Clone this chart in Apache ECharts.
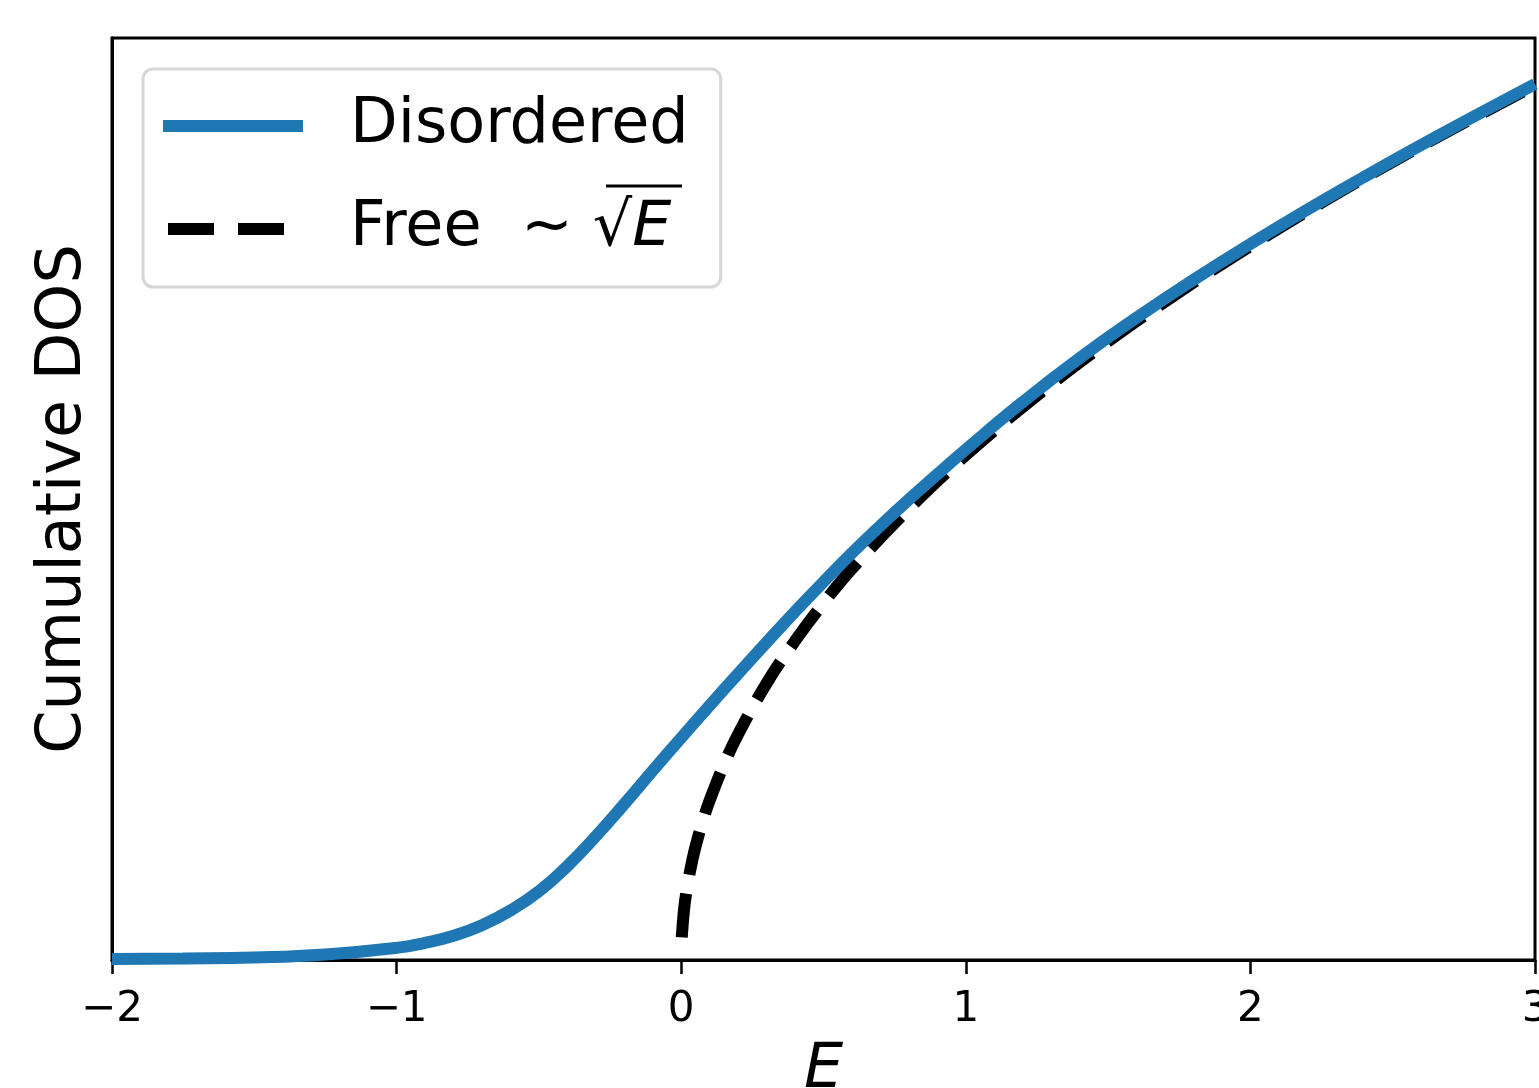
<!DOCTYPE html>
<html>
<head>
<meta charset="utf-8">
<script src="https://cdn.jsdelivr.net/npm/echarts@6/dist/echarts.min.js"></script>
<style>
html,body{margin:0;padding:0;background:#fff;}
#chart{width:1539px;height:1088px;}
</style>
</head>
<body>
<div id="chart"></div>
<script>
// Energy grid and cumulative DOS (arbitrary units) of the disordered system
const disorderedE = [-2.0,-1.75,-1.5,-1.25,-1.0,-0.9,-0.8,-0.7,-0.6,-0.5,-0.4,-0.3,-0.2,-0.1,0.0,0.1,0.2,0.3,0.4,0.5,0.6,0.7,0.8,0.9,1.0,1.2,1.4,1.6,1.8,2.0,2.2,2.4,2.6,2.8,3.0];
const disorderedDOS = [0.002,0.003,0.005,0.011,0.024,0.034,0.048,0.069,0.098,0.136,0.186,0.245,0.309,0.375,0.440,0.504,0.567,0.629,0.690,0.749,0.806,0.860,0.912,0.962,1.011,1.105,1.192,1.272,1.347,1.418,1.486,1.551,1.614,1.675,1.735];
// Free particle curve ~ sqrt(E)
const freeE = [0.002,0.01,0.02,0.04,0.06,0.08,0.1,0.15,0.2,0.3,0.4,0.5,0.6,0.8,1.0,1.25,1.5,1.75,2.0,2.25,2.5,2.75,3.0];
const freeDOS = [0.045,0.100,0.141,0.200,0.245,0.283,0.316,0.387,0.447,0.548,0.632,0.707,0.775,0.894,1.000,1.118,1.225,1.323,1.414,1.500,1.581,1.658,1.732];
const xTicks = [-2,-1,0,1,2,3];
const seriesNames = ['Disordered','Free'];

const FONT = 'DejaVu Sans';
const chart = echarts.init(document.getElementById('chart'), null, {renderer:'canvas'});

const dashedIcon = 'path://M0,0L0.01,0L0,0.01Z M5,0H51V12H5Z M75,0H121V12H75Z M140,12L139.99,12L140,11.99Z';

const option = {
  animation: false,
  backgroundColor: '#ffffff',
  grid: {left:112, right:4, top:38, bottom:128, outerBoundsMode:'none', containLabel:false,
         show:true, borderColor:'#000', borderWidth:3, backgroundColor:'transparent'},
  xAxis: {
    type:'value', min:xTicks[0], max:xTicks[xTicks.length-1], interval:1,
    name:'E', nameLocation:'middle', nameGap:80,
    nameTextStyle:{fontFamily:FONT, fontSize:62, fontStyle:'italic', color:'#000', verticalAlign:'top'},
    axisLine:{show:true, onZero:false, lineStyle:{color:'#000', width:3}},
    axisTick:{show:true, inside:false, length:14, lineStyle:{color:'#000', width:2.5}},
    axisLabel:{show:true, margin:29, fontFamily:FONT, fontSize:42, color:'#000',
      hideOverlap:false, showMinLabel:true, showMaxLabel:true,
      formatter:function(v){ return v<0 ? '\u2212'+Math.abs(v) : String(v); }},
    splitLine:{show:false}
  },
  yAxis: {
    type:'value', min:0, max:1.826,
    name:'Cumulative DOS', nameLocation:'middle', nameGap:17,
    nameTextStyle:{fontFamily:FONT, fontSize:62, color:'#000'},
    axisLine:{show:true, onZero:false, lineStyle:{color:'#000', width:3}},
    axisTick:{show:false}, axisLabel:{show:false}, splitLine:{show:false}
  },
  legend: {
    data: [
      {name: seriesNames[0], icon:'rect'},
      {name: seriesNames[1], icon: dashedIcon}
    ],
    orient:'vertical', left:143, top:69,
    padding:[22,32,23,20],
    itemWidth:140, itemHeight:12, itemGap:33,
    backgroundColor:'rgba(255,255,255,0.8)',
    borderColor:'#d6d6d6', borderWidth:3, borderRadius:10,
    formatter:function(name){
      return name==='Disordered' ? '{t|Disordered}' : '{t|Free  ~ }{s|\u221A}{e|E}';
    },
    textStyle:{fontFamily:FONT, fontSize:62, color:'#000', lineHeight:70,
      rich:{
        t:{fontFamily:FONT, fontSize:62, color:'#000', padding:[0,0,0,42], lineHeight:70},
        s:{fontFamily:FONT, fontSize:62, color:'#000', lineHeight:70},
        e:{fontFamily:FONT, fontSize:62, fontStyle:'italic', color:'#000', lineHeight:70}
      }}
  },
  graphic: [
    {type:'line', z:200, shape:{x1:606, y1:186, x2:682, y2:186}, style:{stroke:'#000', lineWidth:3}}
  ],
  series: [
    {
      name:'Free', type:'line', symbol:'none', smooth:0.4, z:2,
      data: freeE.map(function(e,i){ return [e, freeDOS[i]]; }),
      lineStyle:{color:'#000', width:12, type:[44,19], cap:'butt'},
      itemStyle:{color:'#000'}
    },
    {
      name:'Disordered', type:'line', symbol:'none', smooth:0.5, z:3,
      data: disorderedE.map(function(e,i){ return [e, disorderedDOS[i]]; }),
      lineStyle:{color:'#1f77b4', width:12},
      itemStyle:{color:'#1f77b4'}
    }
  ]
};
chart.setOption(option);
</script>
</body>
</html>
